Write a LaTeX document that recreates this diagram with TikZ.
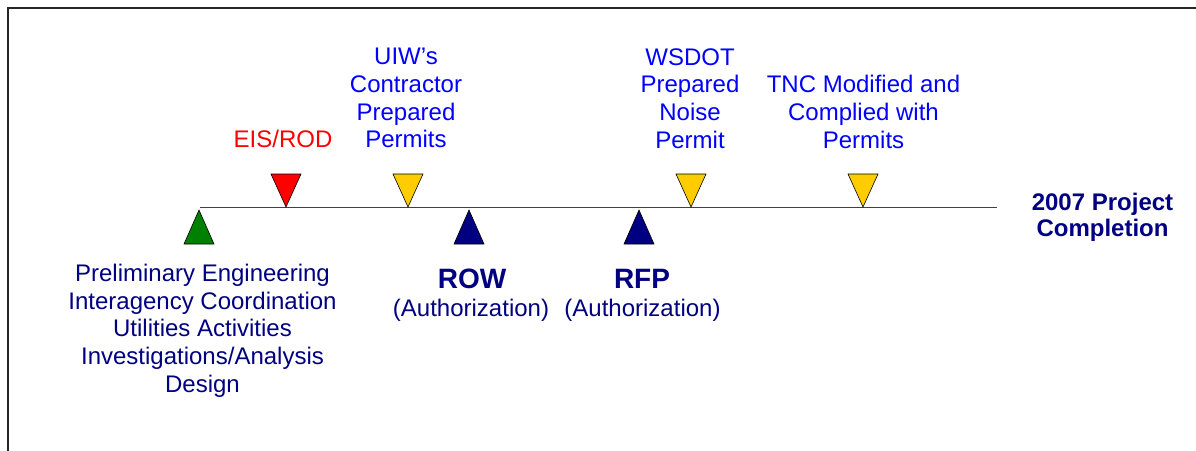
\documentclass[tikz,border=0pt]{standalone}
\usepackage{fontspec}
\setmainfont{Liberation Sans}
\definecolor{tblue}{RGB}{0,0,255}
\definecolor{tnavy}{RGB}{0,0,128}
\definecolor{tred}{RGB}{255,0,0}
\definecolor{tyellow}{RGB}{255,204,0}
\definecolor{tgreen}{RGB}{0,128,0}
\begin{document}
\begin{tikzpicture}[x=1pt,y=-1pt,
  lbl/.style={font=\fontsize{24}{27.6}\selectfont, align=center, inner sep=0pt, anchor=base},
  boldlbl/.style={font=\fontsize{24}{26.7}\selectfont\bfseries, align=center, inner sep=0pt, anchor=base, text=tnavy},
  biglbl/.style={font=\fontsize{28}{30}\selectfont\bfseries, inner sep=0pt, anchor=base, text=tnavy},
  tri/.style={draw=black, line width=0.6pt, line join=miter}]
\useasboundingbox (0,0) rectangle (1196,450);
% frame
\coordinate (fbl) at (8,470);
\coordinate (ftl) at (8,8);
\coordinate (ftr) at (1220,8);
\draw[line width=1.6pt, black!85] (fbl) -- (ftl) -- (ftr);
% timeline
\coordinate (ls) at (200,207.5);
\coordinate (le) at (997,207.5);
\draw[line width=1pt, black!75] (ls) -- (le);
% markers: down triangles (apex on line)
\coordinate (eis) at (286,207);
\coordinate (uiw) at (408,207);
\coordinate (wsd) at (691,207);
\coordinate (tnc) at (863,207);
\foreach \p/\c in {eis/tred, uiw/tyellow, wsd/tyellow, tnc/tyellow}
  \filldraw[tri, fill=\c, shift={(\p)}] (-15,-33) -- (15,-33) -- (0,0) -- cycle;
% up triangles
\coordinate (pre) at (199,210);
\coordinate (row) at (469,210);
\coordinate (rfp) at (639,210);
\foreach \p/\c in {pre/tgreen, row/tnavy, rfp/tnavy}
  \filldraw[tri, fill=\c, shift={(\p)}] (-15,34) -- (15,34) -- (0,0) -- cycle;
% labels above (anchor = baseline of last line)
\node[lbl, text=tred] (teis) at (283,147.7) {EIS/ROD};
\node[lbl, text=tblue] (tuiw) at (406,147.7) {UIW’s\\Contractor\\Prepared\\Permits};
\node[lbl, text=tblue] (twsd) at (690,148) {WSDOT\\Prepared\\Noise\\Permit};
\node[lbl, text=tblue] (ttnc) at (863.5,148) {TNC Modified and\\Complied with\\Permits};
\node[boldlbl] (tend) at (1102.5,236.7) {2007 Project\\Completion};
% labels below
\node[lbl, text=tnavy] (tpre) at (202.5,392) {Preliminary Engineering\\Interagency Coordination\\Utilities Activities\\Investigations/Analysis\\Design};
\node[biglbl] (trow) at (472,288) {ROW};
\node[lbl, text=tnavy] (trowa) at (471,316) {(Authorization)};
\node[biglbl] (trfp) at (642,288) {RFP};
\node[lbl, text=tnavy] (trfpa) at (642.5,316) {(Authorization)};
\end{tikzpicture}
\end{document}
